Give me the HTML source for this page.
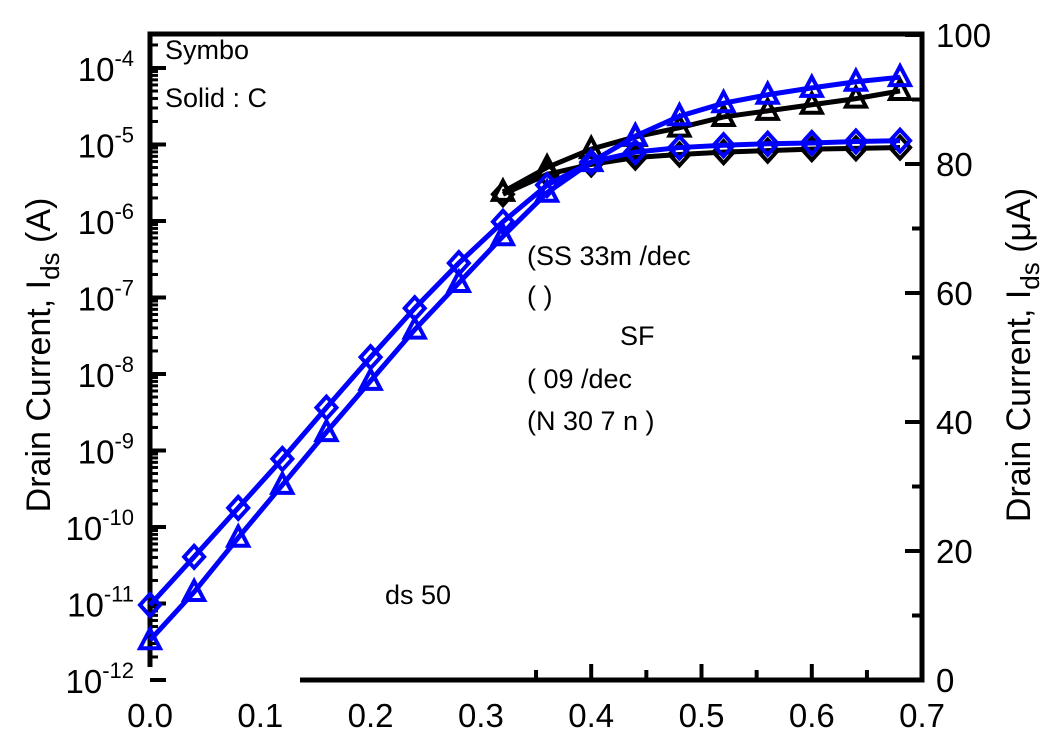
<!DOCTYPE html>
<html><head><meta charset="utf-8"><style>
body{margin:0;background:#fff;}
svg{display:block;font-family:"Liberation Sans",sans-serif;}
</style></head><body>
<svg id="chart" width="1063" height="737">
<g id="axes"></g>
<g id="series"></g>
<g font-size="27" fill="#000">
<text x="165" y="59">Symbo</text>
<text x="165" y="107">Solid : C</text>
<text x="527" y="265">(SS  33m  /dec</text>
<text x="527" y="305">(                        )</text>
<text x="620" y="345">SF</text>
<text x="527" y="388">(       09    /dec</text>
<text x="527" y="430">(N         30 7 n      )</text>
<text x="385" y="604">ds  50</text>
</g>
<g font-size="34" fill="#000">
<text transform="translate(50,355) rotate(-90)" text-anchor="middle">Drain Current, I<tspan font-size="26" dy="9">ds</tspan><tspan dy="-9"> (A)</tspan></text>
<text transform="translate(1030,355) rotate(-90)" text-anchor="middle">Drain Current, I<tspan font-size="26" dy="9">ds</tspan><tspan dy="-9"> (μA)</tspan></text>
</g>
</svg>
<script>
const xTicks=[0.0,0.1,0.2,0.3,0.4,0.5,0.6,0.7];
const logTicks=[-12,-11,-10,-9,-8,-7,-6,-5,-4];
const rightTicks=[0,20,40,60,80,100];
const vgs=[0,0.04,0.08,0.12,0.16,0.2,0.24,0.28,0.32,0.36,0.4,0.44,0.48,0.52,0.56,0.6,0.64,0.68];
const blueDiamondLog=[-11.02,-10.39,-9.75,-9.11,-8.44,-7.78,-7.14,-6.55,-6.01,-5.53,-5.23,-5.10,-5.04,-5.01,-4.99,-4.98,-4.96,-4.95];
const blueTriangleLog=[-11.48,-10.85,-10.14,-9.45,-8.76,-8.09,-7.42,-6.81,-6.2,-5.63,-5.23,-4.89,-4.63,-4.46,-4.35,-4.26,-4.18,-4.12];
const blackVgs=[0.32,0.36,0.4,0.44,0.48,0.52,0.56,0.6,0.64,0.68];
const blackDiamondLog=[-5.65,-5.39,-5.26,-5.17,-5.13,-5.10,-5.08,-5.06,-5.05,-5.04];
const blackTriangleLog=[-5.62,-5.3,-5.06,-4.9,-4.78,-4.64,-4.56,-4.48,-4.40,-4.30];
const NS="http://www.w3.org/2000/svg";
const X=v=>150+v*1103;
const Y=l=>680-(l+12)*76.5;
const YR=v=>680-v*6.45;
function el(tag,attrs,parent){const e=document.createElementNS(NS,tag);for(const k in attrs)e.setAttribute(k,attrs[k]);parent.appendChild(e);return e;}
const ax=document.getElementById('axes');
let f=el('path',{d:'M150,667 L150,34 L922,34 L922,680 L300,680',fill:'none',stroke:'#000','stroke-width':5},ax);


xTicks.forEach(t=>{
 let tx=el('text',{x:X(t),y:727,'text-anchor':'middle','font-size':33},ax);tx.textContent=t.toFixed(1);
 
 
 if(t>=0.4){el('line',{x1:X(t),x2:X(t),y1:680,y2:664,stroke:'#000','stroke-width':4},ax);}
 if(t>=0.3&&t<0.7){el('line',{x1:X(t+0.05),x2:X(t+0.05),y1:680,y2:670,stroke:'#000','stroke-width':4},ax);}
});
logTicks.forEach(l=>{
 const y=Y(l);
 el('line',{x1:150,x2:166,y1:y,y2:y,stroke:'#000','stroke-width':4},ax);
 for(let m=2;m<=9;m++){const ym=Y(l+Math.log10(m));if(ym>36&&ym<678)el('line',{x1:150,x2:158,y1:ym,y2:ym,stroke:'#000','stroke-width':3},ax);}
 let tx=el('text',{x:134,y:y+13,'text-anchor':'end','font-size':33},ax);
 tx.innerHTML='10<tspan dy="-15" font-size="22">'+l+'</tspan>';
 
 
});
rightTicks.forEach(v=>{
 const y=YR(v);
 el('line',{x1:922,x2:905,y1:y,y2:y,stroke:'#000','stroke-width':4},ax);
 if(v<100)el('line',{x1:922,x2:912,y1:YR(v+10),y2:YR(v+10),stroke:'#000','stroke-width':4},ax);
 let tx=el('text',{x:936,y:y+12,'font-size':33},ax);tx.textContent=v;
 
 
});
const sg=document.getElementById('series');
function series(xs,ys,color,marker,name){
 const g=el('g',{},sg);
 
 
 el('polyline',{points:xs.map((x,i)=>X(x)+','+Y(ys[i])).join(' '),fill:'none',stroke:color,'stroke-width':5},g);
 xs.forEach((x,i)=>{const cx=X(x),cy=Y(ys[i]);
  let d=marker==='d'?`M${cx},${cy-11} L${cx+10},${cy} L${cx},${cy+11} L${cx-10},${cy}Z`:`M${cx},${cy-11} L${cx+10},${cy+8} L${cx-10},${cy+8}Z`;
  let m=el('path',{d:d,fill:'none',stroke:color,'stroke-width':4},g);
  
  
 });
}
series(blackVgs,blackTriangleLog,'#000','t','black-triangle-series');
series(blackVgs,blackDiamondLog,'#000','d','black-diamond-series');
series(vgs,blueTriangleLog,'#0000ff','t','blue-triangle-series');
series(vgs,blueDiamondLog,'#0000ff','d','blue-diamond-series');
</script>
</body></html>
